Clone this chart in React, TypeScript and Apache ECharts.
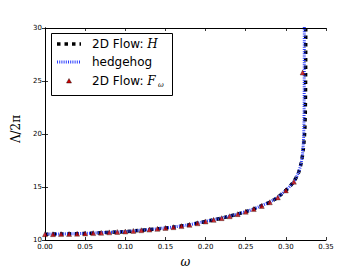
import React, { useEffect, useRef } from "react";
import * as echarts from "echarts";

// 2D Flow: H (black dashed squares)
const hOmega = [0, 0.02, 0.04, 0.06, 0.08, 0.10, 0.12, 0.14, 0.15, 0.16, 0.18, 0.20, 0.22, 0.24, 0.25, 0.26, 0.28, 0.29, 0.30, 0.305, 0.31, 0.313, 0.316, 0.318, 0.3197, 0.321, 0.322, 0.323, 0.3237, 0.3242, 0.3245, 0.3247, 0.3248];
const hLambda = [10.55, 10.56, 10.59, 10.65, 10.72, 10.78, 10.92, 11.05, 11.13, 11.21, 11.43, 11.75, 12.06, 12.44, 12.67, 12.92, 13.56, 14.02, 14.68, 15.05, 15.5, 15.9, 16.4, 16.9, 17.5, 18.1, 18.8, 19.6, 20.6, 22, 24, 27, 31];

// hedgehog (blue dotted)
const hhOmega = [0, 0.02, 0.04, 0.06, 0.08, 0.10, 0.12, 0.14, 0.15, 0.16, 0.18, 0.20, 0.22, 0.24, 0.25, 0.26, 0.28, 0.29, 0.30, 0.305, 0.31, 0.313, 0.316, 0.318, 0.3197, 0.3205, 0.3215, 0.3222, 0.3226, 0.3228, 0.3229, 0.323];
const hhLambda = [10.56, 10.57, 10.6, 10.66, 10.73, 10.79, 10.93, 11.06, 11.14, 11.22, 11.44, 11.76, 12.07, 12.45, 12.68, 12.93, 13.57, 14.03, 14.69, 15.06, 15.5, 15.9, 16.4, 16.9, 17.5, 17.9, 18.8, 19.8, 21.2, 23, 26, 31];

// 2D Flow: F_omega (red triangles)
const fOmega = [0, 0.01, 0.02, 0.03, 0.04, 0.05, 0.06, 0.07, 0.08, 0.09, 0.10, 0.11, 0.12, 0.13, 0.14, 0.15, 0.16, 0.17, 0.18, 0.19, 0.20, 0.21, 0.22, 0.23, 0.24, 0.25, 0.26, 0.27, 0.28, 0.29, 0.30, 0.31, 0.3209];
const fLambda = [10.55, 10.55, 10.56, 10.57, 10.59, 10.62, 10.65, 10.68, 10.72, 10.76, 10.8, 10.86, 10.92, 10.98, 11.05, 11.13, 11.21, 11.31, 11.43, 11.58, 11.75, 11.9, 12.06, 12.24, 12.44, 12.67, 12.92, 13.21, 13.56, 14.02, 14.68, 15.5, 25.8];

const xTicks = { min: 0, max: 0.35, interval: 0.05 };
const yTicks = { min: 10, max: 30, interval: 5 };

const zip = (a: number[], b: number[]) => a.map((v, i) => [v, b[i]]);

export default function App() {
  const ref = useRef<HTMLDivElement>(null);
  useEffect(() => {
    if (!ref.current) return;
    const chart = echarts.init(ref.current, undefined, { renderer: "svg" });
    const tickFont = { fontFamily: "DejaVu Sans", fontSize: 7, color: "#000" };
    const axisLine = { show: true, lineStyle: { color: "#000", width: 1 } };
    const axisTick = { show: true, inside: true, length: 3, lineStyle: { color: "#000", width: 0.8 } };
    const mathFont = "DejaVu Serif";
    chart.setOption({
      animation: false,
      backgroundColor: "#fff",
      grid: { left: 45, right: 37, top: 28, bottom: 28, containLabel: false },
      xAxis: [
        {
          type: "value", position: "bottom", ...xTicks,
          axisLine, axisTick, splitLine: { show: false },
          axisLabel: { ...tickFont, margin: 3, formatter: (v: number) => v.toFixed(2) },
          name: "ω", nameLocation: "middle", nameGap: 16,
          nameTextStyle: { fontFamily: mathFont, fontStyle: "italic", fontSize: 12, color: "#000" },
        },
        {
          type: "value", position: "top", ...xTicks,
          axisLine, axisTick, splitLine: { show: false }, axisLabel: { show: false },
        },
      ],
      yAxis: [
        {
          type: "value", position: "left", ...yTicks,
          axisLine, axisTick, splitLine: { show: false },
          axisLabel: { ...tickFont, margin: 3 },
          name: "Λ/2π", nameLocation: "middle", nameGap: 22, nameRotate: 90,
          nameTextStyle: { fontFamily: mathFont, fontSize: 12, color: "#000", padding: [0, 0, 0, 10] },
        },
        {
          type: "value", position: "right", ...yTicks,
          axisLine, axisTick, splitLine: { show: false }, axisLabel: { show: false },
        },
      ],
      series: [
        {
          name: "2D Flow: H", type: "line", data: zip(hOmega, hLambda), showSymbol: false, symbol: "none",
          lineStyle: { color: "#000", width: 3.5, type: [3.5, 4], cap: "butt" }, z: 2,
        },
        {
          name: "hedgehog", type: "line", data: zip(hhOmega, hhLambda), showSymbol: false, symbol: "none",
          lineStyle: { color: "#2a3cff", width: 3, type: [1, 1.2], cap: "butt" }, z: 3,
        },
        {
          name: "2D Flow: F", type: "scatter", data: zip(fOmega, fLambda), symbol: "triangle", symbolSize: 5,
          itemStyle: { color: "#cc0000", borderColor: "#000", borderWidth: 0.4 }, z: 4,
        },
      ],
      graphic: [
        { type: "rect", shape: { x: 51.5, y: 33.5, width: 121, height: 62 }, style: { fill: "#fff", stroke: "#000", lineWidth: 1 }, z: 10 },
        { type: "line", shape: { x1: 57, y1: 44, x2: 81, y2: 44 }, style: { stroke: "#000", lineWidth: 3.5, lineDash: [3.5, 4] }, z: 11 },
        { type: "line", shape: { x1: 57, y1: 62, x2: 81, y2: 62 }, style: { stroke: "#2a3cff", lineWidth: 3, lineDash: [1, 1.2] }, z: 11 },
        { type: "polygon", shape: { points: [[69, 78.5], [71.5, 83], [66.5, 83]] }, style: { fill: "#cc0000", stroke: "#000", lineWidth: 0.4 }, z: 11 },
        {
          type: "text", x: 92, y: 44, z: 11,
          style: {
            text: "{a|2D Flow: }{m|H}", verticalAlign: "middle",
            rich: { a: { fontFamily: "DejaVu Sans", fontSize: 12, fill: "#000" }, m: { fontFamily: mathFont, fontStyle: "italic", fontSize: 12, fill: "#000" } },
          },
        },
        { type: "text", x: 92, y: 62, z: 11, style: { text: "hedgehog", fontFamily: "DejaVu Sans", fontSize: 12, fill: "#000", verticalAlign: "middle" } },
        {
          type: "text", x: 92, y: 81, z: 11,
          style: {
            text: "{a|2D Flow: }{m|F}", verticalAlign: "middle",
            rich: { a: { fontFamily: "DejaVu Sans", fontSize: 12, fill: "#000" }, m: { fontFamily: mathFont, fontStyle: "italic", fontSize: 12, fill: "#000" } },
          },
        },
        { type: "text", x: 158, y: 85, z: 11, style: { text: "ω", fontFamily: mathFont, fontStyle: "italic", fontSize: 7, fill: "#000", verticalAlign: "middle" } },
      ],
    });
    return () => chart.dispose();
  }, []);
  return <div ref={ref} style={{ position: "absolute", left: 0, top: 0, width: 363, height: 273 }} />;
}
